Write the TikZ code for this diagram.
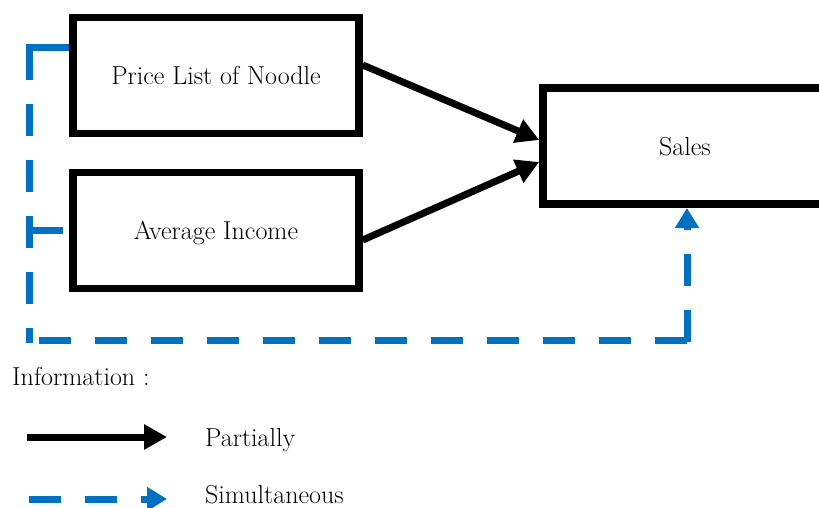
\documentclass[tikz,border=0pt]{standalone}
\usetikzlibrary{arrows.meta}
\definecolor{dblue}{HTML}{0070C0}
\begin{document}
\begin{tikzpicture}[x=1pt,y=-1pt,
 box/.style={draw, line width=7.5pt, minimum width=286pt, minimum height=116pt, inner sep=0pt, text depth=0pt, font=\fontsize{26}{30}\selectfont},
 solidarrow/.style={line width=7pt, -{Triangle[length=23pt,width=24pt]}},
 dashline/.style={dblue, line width=7pt, dash pattern=on 32pt off 24pt},
 bluetip/.style={-{Triangle[length=20pt,width=23pt]}},
 lbl/.style={anchor=base west, inner sep=0pt, font=\fontsize{26}{30}\selectfont}]
\useasboundingbox (0,0) rectangle (819,508);
\clip (0,0) rectangle (819,508);

\node[box] (p1) at (216,75.5) {Price List of Noodle};
\node[box] (p2) at (216,230.5) {Average Income};
\node[box, minimum width=284pt] (s) at (685,146) {Sales};

% partial arrows
\draw[solidarrow] ([yshift=10.5pt]p1.east) -- ([yshift=6pt]s.west);
\draw[solidarrow] ([yshift=-9.5pt]p2.east) -- ([yshift=-16pt]s.west);

% simultaneous connector
\coordinate (p1w) at ([yshift=27.5pt]p1.west);
\coordinate (tl) at (29,48);
\coordinate (bl) at (29,343);
\coordinate (bls) at (39,340);
\coordinate (br) at (687,340);
\coordinate (brs) at (687,342);
\coordinate (tip) at (687,208);
\coordinate (br2) at (63,230);
\draw[dblue, line width=7pt] (p1w) -- (tl |- p1w) -- ([yshift=-3.5pt]tl);
\draw[dashline] (tl) -- (bl);
\draw[dashline] (bls) -- (br);
\draw[dashline, bluetip] (brs) -- (tip);
\draw[dblue, line width=7pt] (tl |- br2) -- (br2);

% legend
\node[lbl] (info) at (12,385) {Information :};
\coordinate (la1) at (27,437);
\coordinate (la2) at (167,437);
\draw[solidarrow] (la1) -- (la2);
\node[lbl] (part) at (205,446) {Partially};
\coordinate (lb1) at (29,499);
\coordinate (lb2) at (167,499);
\draw[dashline, bluetip] (lb1) -- (lb2);
\node[lbl] (sim) at (205,503) {Simultaneous};
\end{tikzpicture}
\end{document}
